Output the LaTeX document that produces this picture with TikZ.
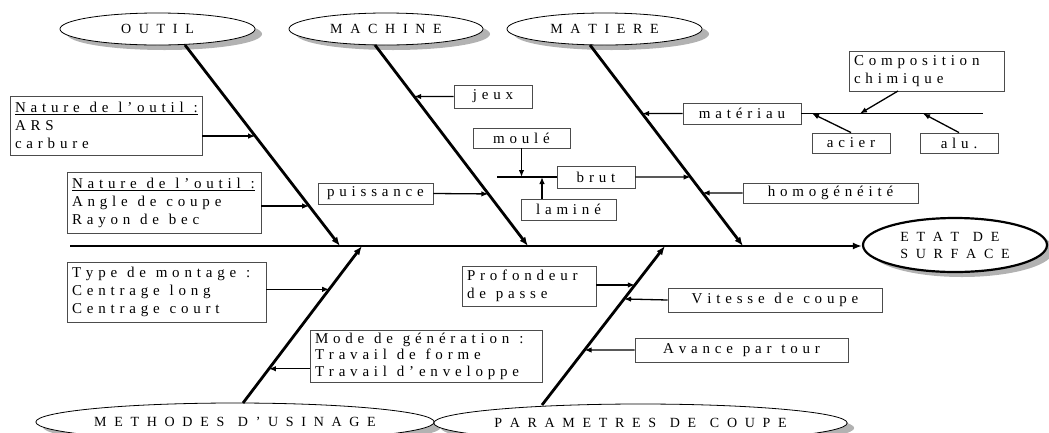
\documentclass[tikz,border=0pt]{standalone}
\usepackage{fontspec}
\setmainfont{Liberation Serif}
\usetikzlibrary{shapes.geometric,shadows,arrows.meta,calc}

\ExplSyntaxOn
\dim_new:N \l_ls_dim
\dim_new:N \l_ls_sp_dim
\seq_new:N \l_ls_words_seq
\bool_new:N \l_ls_first_bool
\NewDocumentCommand \lsp { O{4.8pt} O{5pt} m }
 {
  \group_begin:
  \dim_set:Nn \l_ls_dim {#1}
  \dim_set:Nn \l_ls_sp_dim {#2}
  \seq_set_split:Nnn \l_ls_words_seq { ~ } {#3}
  \bool_set_true:N \l_ls_first_bool
  \seq_map_inline:Nn \l_ls_words_seq
   {
    \bool_if:NF \l_ls_first_bool { \kern \l_ls_sp_dim }
    \bool_set_false:N \l_ls_first_bool
    \tl_map_inline:nn {##1} { ####1 \kern \l_ls_dim }
   }
  \kern -\l_ls_dim
  \group_end:
 }
\ExplSyntaxOff
\newcommand{\lb}[1]{\lsp[7.7pt][6pt]{#1}}

\tikzset{
 box/.style={draw=black!70, line width=0.9pt, fill=white, inner xsep=5pt, inner ysep=0pt,
   font=\fontsize{15}{18}\selectfont, text=black},
 ell/.style={ellipse, draw, line width=0.8pt, fill=white,
   drop shadow={shadow xshift=7pt, shadow yshift=-5pt, fill=black!30, opacity=1},
   inner sep=0pt, font=\fontsize{14}{17}\selectfont, text=black},
 bone/.style={line width=2.8pt, -{Latex[length=9pt,width=7pt]}},
 spine/.style={line width=2.2pt, -{Latex[length=9pt,width=7pt]}},
 arr/.style={line width=1.3pt, -{Latex[length=7pt,width=5.5pt]}},
 ln/.style={line width=1.2pt},
}

\begin{document}
\begin{tikzpicture}[x=1pt,y=-1pt]
\useasboundingbox (0,0) rectangle (1049,432);
\clip (0,0) rectangle (1049,432);

% ellipses
\node[ell, minimum width=195pt, minimum height=32pt] (outil) at (157.5,29) {\lb{OUTIL}};
\node[ell, minimum width=194pt, minimum height=32pt] (machine) at (386,29) {\lb{MACHINE}};
\node[ell, minimum width=195pt, minimum height=32pt] (matiere) at (604.5,29) {\lb{MATIERE}};
\node[ell, minimum width=184pt, minimum height=54pt, line width=2.2pt, align=left] (etat) at (955,245) {\lb{ETAT DE}\\\lb{SURFACE}};
\node[ell, minimum width=396pt, minimum height=38pt] (methodes) at (235,422) {\raisebox{-3pt}{\lb{METHODES D’USINAGE}}};
\node[ell, minimum width=395pt, minimum height=38pt] (param) at (640.5,423) {\raisebox{-3pt}{\lb{PARAMETRES DE COUPE}}};

% boxes
\node[box, minimum width=192pt, minimum height=59pt, text width=182pt, align=left] (nat1) at (106,125.5)
  {\underline{\lsp{Nature de l’outil :}}\\\lsp{ARS}\\\lsp{carbure}};
\node[box, minimum width=194pt, minimum height=61pt, text width=184pt, align=left] (nat2) at (164,202.5)
  {\underline{\lsp{Nature de l’outil :}}\\\lsp{Angle de coupe}\\\lsp{Rayon de bec}};
\node[box, minimum width=199pt, minimum height=60pt, text width=189pt, align=left] (type) at (166.5,292)
  {\lsp{Type de montage :}\\\lsp{Centrage long}\\\lsp{Centrage court}};
\node[box, minimum width=232pt, minimum height=52pt, text width=222pt, align=left,
  font=\fontsize{15}{16.5}\selectfont] (mode) at (426,356)
  {\lsp{Mode de génération :}\\\lsp{Travail de forme}\\\lsp{Travail d’enveloppe}};
\node[box, minimum width=78pt, minimum height=23pt, text width=68pt, align=center] (jeux) at (493,96.5) {\lsp{jeux}};
\node[box, minimum width=97pt, minimum height=20pt, text width=87pt, align=center] (moule) at (521.5,138) {\lsp{moulé}};
\node[box, minimum width=78pt, minimum height=22pt, text width=68pt, align=center] (brut) at (596,177) {\lsp{brut}};
\node[box, minimum width=95pt, minimum height=21pt, text width=85pt, align=center] (lamine) at (568.5,209.5) {\lsp{laminé}};
\node[box, minimum width=115pt, minimum height=21pt, text width=105pt, align=center] (puiss) at (375.5,193.5) {\lsp{puissance}};
\node[box, minimum width=175pt, minimum height=20pt, text width=165pt, align=center] (homog) at (830.5,193) {\lsp{homogénéité}};
\node[box, minimum width=118pt, minimum height=21pt, text width=108pt, align=center] (materiau) at (742,113.5) {\lsp{matériau}};
\node[box, minimum width=155pt, minimum height=40pt, text width=145pt, align=left] (compo) at (926.5,71) {\lsp{Composition}\\\lsp{chimique}};
\node[box, minimum width=78pt, minimum height=20pt, text width=68pt, align=center] (acier) at (851,143) {\lsp{acier}};
\node[box, minimum width=78pt, minimum height=20pt, text width=68pt, align=center] (alu) at (959,143) {\lsp{alu.}};
\node[box, minimum width=134pt, minimum height=40pt, text width=124pt, align=left] (profond) at (529,286) {\lsp{Profondeur}\\\lsp{de passe}};
\node[box, minimum width=214pt, minimum height=24pt, text width=204pt, align=center] (vitesse) at (775,300) {\lsp{Vitesse de coupe}};
\node[box, minimum width=213pt, minimum height=24pt, text width=203pt, align=center] (avance) at (741.5,350) {\lsp{Avance par tour}};

% spine
\coordinate (sp0) at (70,246);
\draw[spine] (sp0) -- (etat.west |- sp0);

% bone end points
\coordinate (ob) at (185,45);   \coordinate (os) at (340,246);
\coordinate (mb) at (375,45);   \coordinate (ms) at (528,246);
\coordinate (tb) at (590,45);   \coordinate (ts) at (743,246);
\coordinate (eb) at (243,403);  \coordinate (es) at (362,246);
\coordinate (pb) at (542,405);  \coordinate (ps) at (665,246);

\draw[bone] (ob) -- (os) coordinate[pos=0.453] (o1) coordinate[pos=0.801] (o2);
\draw[bone] (mb) -- (ms) coordinate[pos=0.256] (m1) coordinate[pos=0.741] (m2);
\draw[bone] (tb) -- (ts) coordinate[pos=0.341] (t1) coordinate[pos=0.657] (t2) coordinate[pos=0.736] (t3);
\draw[bone] (eb) -- (es) coordinate[pos=0.724] (e1) coordinate[pos=0.218] (e2);
\draw[bone] (pb) -- (ps) coordinate[pos=0.755] (p1) coordinate[pos=0.667] (p2) coordinate[pos=0.346] (p3);

% cause arrows
\draw[arr] (o1 -| nat1.east) -- (o1);
\draw[arr] (o2 -| nat2.east) -- (o2);
\draw[arr] (jeux.west) -- (m1);
\draw[arr] (puiss.east) -- (m2);
\draw[arr] (materiau.west) -- (t1);
\draw[arr] (brut.east) -- (t2);
\draw[arr] (homog.west) -- (t3);
\draw[arr] (e1 -| type.east) -- (e1);
\draw[arr] (e2 -| mode.west) -- (e2);
\draw[arr] (p1 -| profond.east) -- (p1);
\draw[arr] (vitesse.west) -- (p2);
\draw[arr] (avance.west) -- (p3);

% sub-branch of materiau
\coordinate (subend) at (983,113.5);
\draw[ln] (materiau.east) -- (subend);
\coordinate (s1) at (860,113.5);
\coordinate (s2) at (812,113.5);
\coordinate (s3) at (923,113.5);
\coordinate (c1) at (898,91);
\draw[arr] (c1) -- (s1);
\draw[arr] (acier.north) -- (s2);
\draw[arr] (alu.north) -- (s3);

% sub-branch of brut
\coordinate (bl) at (497,177);
\draw[ln] (bl) -- (brut.west);
\draw[arr] (moule.south) -- (moule.south |- brut.west);
\coordinate (lm) at (542,199);
\draw[arr] (lm) -- (lm |- brut.west);
\end{tikzpicture}
\end{document}
